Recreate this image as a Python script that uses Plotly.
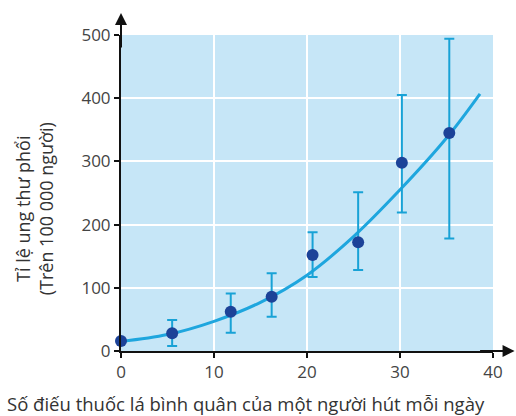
import plotly.graph_objects as go

# Data
cig_x = [0, 5.5, 11.8, 16.2, 20.6, 25.5, 30.2, 35.3]
rate_y = [16, 28, 62, 86, 152, 172, 298, 345]
err_hi = [16, 49, 91, 123, 188, 251, 405, 494]
err_lo = [16, 8, 29, 54, 117, 128, 219, 178]

curve_x = [0, 5, 10, 15, 20, 25, 30, 35, 38.6]
curve_y = [15, 26, 47, 77, 120, 181, 255, 337, 407]

x_ticks = [0, 10, 20, 30, 40]
y_ticks = [0, 100, 200, 300, 400, 500]

x_title = "Số điếu thuốc lá bình quân của một người hút mỗi ngày"
y_title = ["Tỉ lệ ung thư phổi", "(Trên 100 000 người)"]

plus = [h - v for h, v in zip(err_hi, rate_y)]
minus = [v - l for l, v in zip(err_lo, rate_y)]

FONT = "Open Sans"
fig = go.Figure()
fig.add_trace(go.Scatter(
    x=curve_x, y=curve_y, mode="lines", line=dict(color="#1ea6de", width=3, shape="spline"),
    hoverinfo="skip", cliponaxis=False))
fig.add_trace(go.Scatter(
    x=cig_x, y=rate_y, mode="markers",
    marker=dict(color="#1c4298", size=12),
    error_y=dict(type="data", symmetric=False, array=plus, arrayminus=minus,
                 color="#18a2d6", thickness=2, width=5),
    cliponaxis=False))

fig.update_layout(
    width=516, height=416,
    margin=dict(l=121, r=23, t=35, b=65),
    paper_bgcolor="white", plot_bgcolor="#c6e6f7",
    showlegend=False,
    font=dict(family=FONT, color="#333333"),
    xaxis=dict(range=[0, 40], tickvals=x_ticks, showgrid=True, gridcolor="white", gridwidth=2,
               zeroline=False, showline=True, linecolor="#111111", linewidth=2,
               ticks="outside", ticklen=5, tickwidth=2, tickcolor="#111111",
               tickfont=dict(size=17, family=FONT, color="#444444")),
    yaxis=dict(range=[0, 500], tickvals=y_ticks, showgrid=True, gridcolor="white", gridwidth=2,
               zeroline=False, showline=True, linecolor="#111111", linewidth=2,
               ticks="outside", ticklen=5, tickwidth=2, tickcolor="#111111",
               tickfont=dict(size=17, family=FONT, color="#444444")),
)

fig.add_annotation(xref="paper", yref="paper", x=0, y=1.07, ax=0, ay=36, axref="pixel", ayref="pixel",
                   text="", showarrow=True, arrowhead=2, arrowsize=1.2, arrowwidth=2, arrowcolor="#111111")
fig.add_annotation(xref="paper", yref="paper", x=1.058, y=0, ax=-36, ay=0, axref="pixel", ayref="pixel",
                   text="", showarrow=True, arrowhead=2, arrowsize=1.2, arrowwidth=2, arrowcolor="#111111")

fig.add_annotation(xref="paper", yref="paper", x=-116/372, y=-38/316, xanchor="left", yanchor="top",
                   text=x_title, showarrow=False, font=dict(size=18.5, family=FONT, color="#333333"))
fig.add_annotation(xref="paper", yref="paper", x=-112/372, y=0.45, xanchor="left", yanchor="middle",
                   text="<br>".join(y_title), textangle=-90, showarrow=False,
                   font=dict(size=18, family=FONT, color="#333333"))

fig.write_html("out.html", config={"displayModeBar": False},
               post_script="document.body.style.margin='0';")
